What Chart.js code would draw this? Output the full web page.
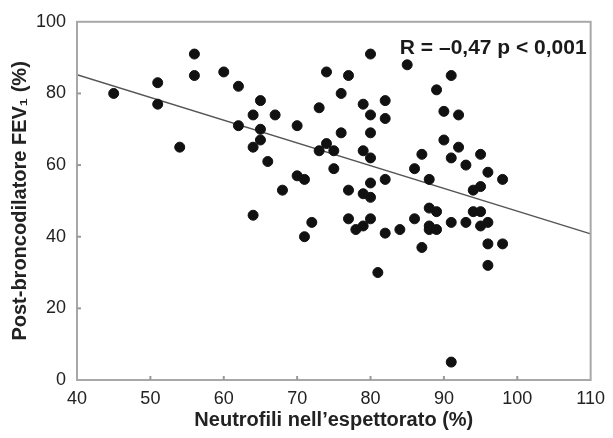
<!DOCTYPE html>
<html>
<head>
<meta charset="utf-8">
<script src="https://cdn.jsdelivr.net/npm/chart.js@4/dist/chart.umd.min.js"></script>
<style>
  html, body { margin: 0; padding: 0; background: #fff; }
  #wrap { width: 613px; height: 438px; }
</style>
</head>
<body>
<div id="wrap"><canvas id="scatter"></canvas></div>
<script>
// neutrofili nell'espettorato (%)
var neutrofili = [56, 80, 85, 60, 74, 77, 91, 56, 51, 62, 89, 45, 76, 65, 82, 51, 79, 73, 90, 64,
  67, 80, 92, 82, 62, 70, 65, 76, 80, 90, 65, 74, 54, 64, 92, 73, 75, 79, 87, 95,
  80, 91, 66, 93, 75, 86, 96, 70, 71, 82, 88, 98, 80, 95, 94, 68, 77, 79, 80, 88,
  89, 94, 95, 64, 77, 80, 86, 72, 91, 93, 96, 95, 79, 88, 78, 84, 88, 89, 82, 71,
  96, 98, 87, 96, 81, 91];
// post-broncodilatore FEV1 (%)
var fev1 = [91, 91, 88, 86, 86, 85, 85, 85, 83, 82, 81, 80, 80, 78, 78, 77, 77, 76, 75, 74,
  74, 74, 74, 73, 71, 71, 70, 69, 69, 67, 67, 66, 65, 65, 65, 64, 64, 64, 63, 63,
  62, 62, 61, 60, 59, 59, 58, 57, 56, 56, 56, 56, 55, 54, 53, 53, 53, 52, 51, 48,
  47, 47, 47, 46, 45, 45, 45, 44, 44, 44, 44, 43, 43, 43, 42, 42, 42, 42, 41, 40,
  38, 38, 37, 32, 30, 5];

// retta di regressione
var lineX = [40, 110];
var lineY = [85.2, 40.8];

var xTicks = [40, 50, 60, 70, 80, 90, 100, 110];
var yTicks = [0, 20, 40, 60, 80, 100];
var annotation = "R = \u20130,47 p < 0,001";

var fontFam = "'Liberation Sans', Arial, Helvetica, sans-serif";

var punti = neutrofili.map(function (v, i) {
  return { x: v, y: fev1[i] };
});
var retta = lineX.map(function (v, i) {
  return { x: v, y: lineY[i] };
});

// frame, inner ticks and the R label
var framePlugin = {
  id: "frame",
  afterDraw: function (chart) {
    var ctx = chart.ctx;
    var a = chart.chartArea;
    var sx = chart.scales.x;
    var sy = chart.scales.y;
    ctx.save();
    ctx.strokeStyle = "#a8a8a8";
    ctx.lineWidth = 2;
    ctx.strokeRect(a.left, a.top, a.right - a.left, a.bottom - a.top);
    ctx.strokeStyle = "#999";
    xTicks.slice(1, -1).forEach(function (t) {
      var px = sx.getPixelForValue(t);
      ctx.beginPath();
      ctx.moveTo(px, a.bottom);
      ctx.lineTo(px, a.bottom - 4);
      ctx.stroke();
    });
    yTicks.slice(1, -1).forEach(function (t) {
      var py = sy.getPixelForValue(t);
      ctx.beginPath();
      ctx.moveTo(a.left, py);
      ctx.lineTo(a.left + 4, py);
      ctx.stroke();
    });
    ctx.fillStyle = "#1a1a1a";
    ctx.font = "bold 21px " + fontFam;
    ctx.textAlign = "left";
    ctx.textBaseline = "middle";
    ctx.fillText(annotation, sx.getPixelForValue(84), sy.getPixelForValue(92.6));
    ctx.restore();
  }
};

new Chart(document.getElementById("scatter"), {
  type: "scatter",
  data: {
    datasets: [
      {
        label: "FEV1",
        data: punti,
        backgroundColor: "#111",
        borderColor: "#111",
        pointRadius: 5,
        pointHoverRadius: 5
      },
      {
        label: "regressione",
        data: retta,
        showLine: true,
        borderColor: "#555",
        borderWidth: 1.5,
        pointRadius: 0,
        fill: false
      }
    ]
  },
  options: {
    responsive: true,
    maintainAspectRatio: false,
    animation: false,
    layout: { padding: { top: 16, right: 11, left: 0, bottom: 0 } },
    plugins: {
      legend: { display: false },
      tooltip: { enabled: false }
    },
    scales: {
      x: {
        type: "linear",
        min: 40,
        max: 110,
        afterFit: function (s) { s.height = 58; },
        afterBuildTicks: function (s) {
          s.ticks = xTicks.map(function (v) { return { value: v }; });
        },
        grid: { display: false, drawTicks: false },
        border: { display: false },
        ticks: {
          padding: 8,
          color: "#222",
          font: { family: fontFam, size: 18 },
          maxRotation: 0
        },
        title: {
          display: true,
          text: "Neutrofili nell\u2019espettorato (%)",
          color: "#222",
          font: { family: fontFam, size: 20, weight: "bold" },
          padding: { top: 0, bottom: 6 }
        }
      },
      y: {
        type: "linear",
        min: 0,
        max: 100,
        afterFit: function (s) { s.width = 77; },
        afterBuildTicks: function (s) {
          s.ticks = yTicks.map(function (v) { return { value: v }; });
        },
        grid: { display: false, drawTicks: false },
        border: { display: false },
        ticks: {
          padding: 11,
          color: "#222",
          font: { family: fontFam, size: 18 }
        },
        title: {
          display: true,
          text: "Post-broncodilatore FEV\u2081 (%)",
          color: "#222",
          font: { family: fontFam, size: 20, weight: "bold" },
          padding: { top: 8, bottom: 0 }
        }
      }
    }
  },
  plugins: [framePlugin]
});
</script>
</body>
</html>
